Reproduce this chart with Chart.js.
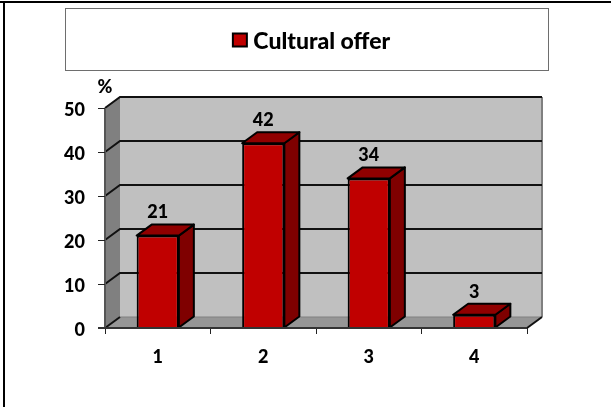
<!DOCTYPE html>
<html><head><meta charset="utf-8">
<style>html,body{margin:0;padding:0;background:#fff}#w{position:relative;width:611px;height:407px}</style>
<script src="https://cdn.jsdelivr.net/npm/chart.js@4"></script></head>
<body><div id="w"><canvas id="c" width="611" height="407"></canvas></div>
<script>
const categories = ['1','2','3','4'];
const seriesName = 'Cultural offer';
const values = [21,42,34,3];
const yTicks = [0,10,20,30,40,50];
const unitLabel = '%';
const DX = 15, DY = 11;
const FONT = 'Lato';
const WEIGHT = 900;

const scene = {
  id:'scene',
  beforeDraw(chart){
    const c = chart.ctx, a = chart.chartArea, y = chart.scales.y;
    const {left:l,right:r,top:t,bottom:b} = a;
    c.save();
    c.fillStyle='#c0c0c0'; c.fillRect(l+DX,t-DY,r-l,b-t);
    c.fillStyle='#808080';
    c.beginPath();c.moveTo(l,t);c.lineTo(l+DX,t-DY);c.lineTo(l+DX,b-DY);c.lineTo(l,b);c.closePath();c.fill();
    c.fillStyle='#969696';
    c.beginPath();c.moveTo(l,b);c.lineTo(l+DX,b-DY);c.lineTo(r+DX,b-DY);c.lineTo(r,b);c.closePath();c.fill();
    c.strokeStyle='#808080';c.lineWidth=2;
    c.beginPath();c.moveTo(r+DX,t-DY);c.lineTo(r+DX,b-DY);c.stroke();
    c.lineWidth=1;
    c.beginPath();c.moveTo(l+DX,b-DY);c.lineTo(r+DX,b-DY);c.stroke();
    c.strokeStyle='#111';c.lineWidth=2;
    for(const v of yTicks){
      const p=y.getPixelForValue(v);
      c.beginPath();c.moveTo(l,p);c.lineTo(l+DX,p-DY);
      if(v>0) c.lineTo(r+DX,p-DY);
      c.stroke();
    }
    c.beginPath();c.moveTo(r,b);c.lineTo(r+DX,b-DY);c.stroke();
    c.strokeStyle='#555';c.lineWidth=2;
    c.beginPath();c.moveTo(l,t);c.lineTo(l,b);c.stroke();
    c.restore();
  },
  beforeDatasetsDraw(chart){
    const c = chart.ctx;
    c.save();c.strokeStyle='#000';c.lineWidth=2;c.lineJoin='round';
    chart.getDatasetMeta(0).data.forEach(bar=>{
      const w=bar.width/2, x0=bar.x-w, x1=bar.x+w, t=bar.y, b=bar.base;
      c.fillStyle='#7f0000';
      c.beginPath();c.moveTo(x1,t);c.lineTo(x1+DX,t-DY);c.lineTo(x1+DX,b-DY);c.lineTo(x1,b);c.closePath();c.fill();c.stroke();
      c.fillStyle='#900000';
      c.beginPath();c.moveTo(x0,t);c.lineTo(x0+DX,t-DY);c.lineTo(x1+DX,t-DY);c.lineTo(x1,t);c.closePath();c.fill();c.stroke();
    });
    c.restore();
  },
  afterDraw(chart){
    const c = chart.ctx, a = chart.chartArea;
    c.save();
    c.fillStyle='#000';c.font=WEIGHT+' 18px '+FONT;c.textAlign='center';c.textBaseline='middle';
    chart.getDatasetMeta(0).data.forEach((bar,i)=>{
      c.fillText(String(values[i]),bar.x,bar.y-23);
    });
    c.fillText(unitLabel,a.left,87);
    c.strokeStyle='#333';c.lineWidth=2;
    c.beginPath();c.moveTo(a.left-7,a.bottom);c.lineTo(a.right,a.bottom);c.stroke();
    // legend swatch drawn wider than the library's box, tight against the text
    const h = chart.legend.legendHitBoxes[0];
    const sy = h.top+(h.height-14)/2-1;
    c.fillStyle='#c00000';c.strokeStyle='#000';c.lineWidth=2;
    c.fillRect(h.left-5,sy,14,13);c.strokeRect(h.left-5,sy,14,13);
    c.strokeStyle='#6e6e6e';c.lineWidth=1;c.strokeRect(65.5,8.5,483,62);
    c.fillStyle='#000';c.fillRect(0,1,611,2);c.fillRect(3,1,2,406);
    c.restore();
  }
};

new Chart(document.getElementById('c'),{
  type:'bar',
  plugins:[scene],
  data:{labels:categories,datasets:[{label:seriesName,data:values,backgroundColor:'#c00000',borderColor:'#000',borderWidth:2,categoryPercentage:0.4,barPercentage:1,xAxisID:'x',yAxisID:'y'}]},
  options:{
    responsive:false,animation:false,
    layout:{padding:{left:17}},
    plugins:{tooltip:{enabled:false},
      legend:{display:true,position:'top',align:'center',onClick:null,
        labels:{boxWidth:4,boxHeight:6,padding:30,color:'#000',font:{family:FONT,weight:WEIGHT,size:23}}}},
    scales:{
      x:{type:'category',position:'bottom',
        afterFit(s){s.height=79;},
        grid:{display:true,offset:true,drawOnChartArea:false,drawTicks:true,tickLength:6,tickColor:'#222',lineWidth:1},
        border:{display:false},
        ticks:{color:'#000',padding:12,maxRotation:0,font:{family:FONT,weight:WEIGHT,size:18}}},
      xTop:{type:'category',position:'top',labels:[''],
        afterFit(s){s.height=45;},
        grid:{display:false},border:{display:false},ticks:{display:false}},
      y:{type:'linear',position:'left',min:0,max:50,
        afterBuildTicks(s){s.ticks=yTicks.map(v=>({value:v}));},
        afterFit(s){s.width=88;},
        grid:{display:true,drawOnChartArea:false,drawTicks:true,tickLength:7,tickColor:'#222',lineWidth:1},
        border:{display:false},
        ticks:{color:'#000',padding:13,labelOffset:2,font:{family:FONT,weight:WEIGHT,size:18}}},
      yRight:{type:'linear',position:'right',min:0,max:1,
        afterFit(s){s.width=84;},
        grid:{display:false},border:{display:false},ticks:{display:false}}
    }
  }
});
</script></body></html>
